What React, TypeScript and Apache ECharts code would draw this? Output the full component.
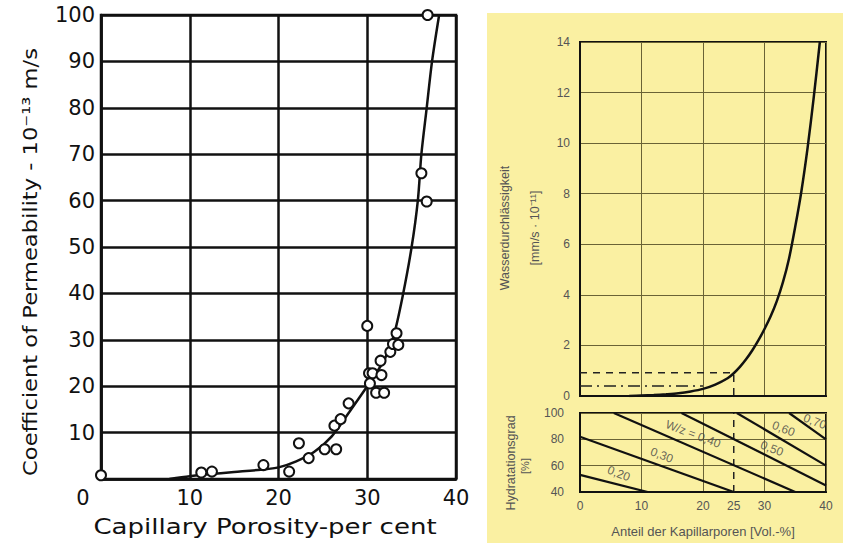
import React, { useEffect, useRef } from "react";
import * as echarts from "echarts";

// ---------- Left chart data ----------
const porosity = [0, 11.3, 12.5, 18.3, 21.2, 22.3, 23.4, 25.2, 26.5, 26.3, 27.0, 27.9, 30.0, 30.2, 30.6, 30.3, 31.0, 31.9, 31.6, 31.5, 32.6, 32.9, 33.3, 33.5, 36.1, 36.7, 36.8];
const permeability = [0.8, 1.4, 1.6, 3.0, 1.6, 7.7, 4.5, 6.4, 6.4, 11.5, 12.9, 16.3, 33.0, 22.8, 22.8, 20.6, 18.6, 18.6, 22.4, 25.5, 27.4, 29.1, 31.4, 28.9, 65.9, 59.8, 100];
const fitX = [7.7, 10, 12, 15, 18, 20, 22, 24, 26, 28, 30, 31, 32, 33, 34, 35, 35.7, 36.1, 36.7, 37.3, 38.1];
const fitY = [0, 0.6, 1.0, 1.5, 2.0, 2.5, 3.8, 5.8, 9.2, 14.5, 20, 22.8, 26, 31, 39.5, 50, 60, 70, 80, 90, 100];
const leftXTicks = [0, 10, 20, 30, 40];

// ---------- Right chart data ----------
const kapX = [8, 10, 12, 14, 16, 18, 20, 22, 24, 25, 26, 27, 28, 29, 30, 31, 32, 33, 34, 35, 36, 37, 38, 39];
const kapY = [0, 0.02, 0.04, 0.07, 0.11, 0.18, 0.28, 0.45, 0.7, 0.9, 1.15, 1.45, 1.8, 2.2, 2.65, 3.15, 3.75, 4.5, 5.45, 6.7, 8.1, 9.8, 11.8, 14];
const dashLevel = [[0, 0.92], [25, 0.92], [25, 0]];
const dashDotLevel = [[0, 0.4], [20, 0.4]];
const dashVertical = [[25, 40], [25, 100]];
const rightXLabels = [0, 10, 20, 25, 30, 40];

const wz020 = [[0, 53], [11, 40]];
const wz030 = [[0, 82], [25, 40]];
const wz040 = [[5.5, 100], [35, 40]];
const wz050 = [[16.5, 100], [40, 45]];
const wz060 = [[25.5, 100], [40, 60]];
const wz070 = [[34, 100], [40, 80]];
const wzLines = [wz020, wz030, wz040, wz050, wz060, wz070];
const wzLabels = [
  { name: "0,20", value: [6.3, 54] },
  { name: "0,30", value: [13.3, 68] },
  { name: "W/z = 0,40", value: [18.4, 84] },
  { name: "0,50", value: [31.2, 73] },
  { name: "0,60", value: [33.1, 88] },
  { name: "0,70", value: [38.2, 93.5] },
];

const BIG = "DejaVu Sans";
const SMALL = "Liberation Sans";
const OLIVE = "#6a6336";

export default function App() {
  const ref = useRef<HTMLDivElement>(null);
  useEffect(() => {
    if (!ref.current) return;
    const chart = echarts.init(ref.current, null, { renderer: "svg" });
    const rightLabel = { fontFamily: SMALL, fontSize: 12, color: "#555" };
    const option: any = {
      animation: false,
      backgroundColor: "#fff",
      graphic: [
        { type: "rect", z: -100, shape: { x: 487, y: 13, width: 356, height: 530 }, style: { fill: "#faf0a2" } },
        { type: "text", x: 265, y: 527, scaleX: 1.24, style: { text: "Capillary Porosity-per cent", fontFamily: BIG, fontSize: 21, fill: "#111", align: "center", verticalAlign: "middle" } },
        { type: "text", x: 30, y: 262, rotation: Math.PI / 2, scaleX: 1.13, style: { text: "Coefficient of Permeability - 10⁻¹³ m/s", fontFamily: BIG, fontSize: 20, fill: "#111", align: "center", verticalAlign: "middle" } },
        { type: "text", x: 505, y: 228, rotation: Math.PI / 2, style: { text: "Wasserdurchlässigkeit", fontFamily: SMALL, fontSize: 12.5, fill: "#555", align: "center", verticalAlign: "middle" } },
        { type: "text", x: 535, y: 228, rotation: Math.PI / 2, style: { text: "[mm/s · 10⁻¹¹]", fontFamily: SMALL, fontSize: 12.5, fill: "#555", align: "center", verticalAlign: "middle" } },
        { type: "text", x: 511, y: 463, rotation: Math.PI / 2, style: { text: "Hydratationsgrad", fontFamily: SMALL, fontSize: 12.5, fill: "#555", align: "center", verticalAlign: "middle" } },
        { type: "text", x: 525, y: 466, rotation: Math.PI / 2, style: { text: "[%]", fontFamily: SMALL, fontSize: 11, fill: "#555", align: "center", verticalAlign: "middle" } },
      ],
      grid: [
        { left: 101, top: 15, width: 355, height: 464, show: true, borderColor: "#111", borderWidth: 2.5, backgroundColor: "transparent" },
        { left: 580, top: 42, width: 246, height: 354, show: true, borderColor: "#111", borderWidth: 2, backgroundColor: "transparent" },
        { left: 580, top: 413, width: 246, height: 79, show: true, borderColor: "#111", borderWidth: 2, backgroundColor: "transparent" },
      ],
      xAxis: [
        {
          gridIndex: 0, type: "value", min: 0, max: 40, interval: 10,
          axisLine: { lineStyle: { color: "#111", width: 2.5 } },
          axisTick: { show: false },
          splitLine: { lineStyle: { color: "#111", width: 2.5 } },
          axisLabel: {
            customValues: leftXTicks,
            margin: 8, fontFamily: BIG, fontSize: 21, color: "#111",
            formatter: (v: number) => (v === 0 ? "{z|0}" : String(v)),
            rich: { z: { fontFamily: BIG, fontSize: 21, color: "#111", padding: [0, 36, 0, 0] } },
          },
        },
        {
          gridIndex: 1, type: "value", min: 0, max: 40, interval: 10,
          axisLine: { lineStyle: { color: "#111", width: 2 } },
          axisTick: { show: false }, axisLabel: { show: false },
          splitLine: { lineStyle: { color: OLIVE, width: 1 } },
        },
        {
          gridIndex: 2, type: "value", min: 0, max: 40, interval: 10,
          axisLine: { lineStyle: { color: "#111", width: 2 } },
          axisTick: { show: false },
          axisLabel: { ...rightLabel, customValues: rightXLabels, margin: 8 },
          splitLine: { lineStyle: { color: OLIVE, width: 1 } },
          name: "Anteil der Kapillarporen [Vol.-%]", nameLocation: "middle", nameGap: 33,
          nameTextStyle: { fontFamily: SMALL, fontSize: 13, color: "#555" },
        },
      ],
      yAxis: [
        {
          gridIndex: 0, type: "value", min: 0, max: 100, interval: 10,
          axisLine: { lineStyle: { color: "#111", width: 2.5 } },
          axisTick: { show: false },
          splitLine: { lineStyle: { color: "#111", width: 2.5 } },
          axisLabel: { margin: 6, fontFamily: BIG, fontSize: 21, color: "#111", formatter: (v: number) => (v === 0 ? "" : String(v)) },
        },
        {
          gridIndex: 1, type: "value", min: 0, max: 14, interval: 2,
          axisLine: { lineStyle: { color: "#111", width: 2 } },
          axisTick: { show: false },
          splitLine: { lineStyle: { color: OLIVE, width: 1 } },
          axisLabel: { ...rightLabel, margin: 10 },
        },
        {
          gridIndex: 2, type: "value", min: 40, max: 100, interval: 20,
          axisLine: { lineStyle: { color: "#111", width: 2 } },
          axisTick: { show: false },
          splitLine: { lineStyle: { color: OLIVE, width: 1 } },
          axisLabel: { ...rightLabel, margin: 16 },
        },
      ],
      series: [
        {
          type: "line", xAxisIndex: 0, yAxisIndex: 0, showSymbol: false, smooth: 0.3,
          data: fitX.map((x, i) => [x, fitY[i]]),
          lineStyle: { color: "#111", width: 2.5 }, z: 2,
        },
        {
          type: "scatter", xAxisIndex: 0, yAxisIndex: 0, symbol: "circle", symbolSize: 10,
          data: porosity.map((x, i) => [x, permeability[i]]),
          itemStyle: { color: "#fff", borderColor: "#111", borderWidth: 2, opacity: 1 }, z: 3,
        },
        {
          type: "line", xAxisIndex: 1, yAxisIndex: 1, showSymbol: false, smooth: 0.3,
          data: kapX.map((x, i) => [x, kapY[i]]),
          lineStyle: { color: "#111", width: 2.5 }, z: 3,
        },
        {
          type: "line", xAxisIndex: 1, yAxisIndex: 1, showSymbol: false, data: dashLevel,
          lineStyle: { color: "#222", width: 1.5, type: [7, 6] }, z: 2,
        },
        {
          type: "line", xAxisIndex: 1, yAxisIndex: 1, showSymbol: false, data: dashDotLevel,
          lineStyle: { color: "#222", width: 1.5, type: [12, 5, 2, 5] }, z: 2,
        },
        {
          type: "line", xAxisIndex: 2, yAxisIndex: 2, showSymbol: false, data: dashVertical,
          lineStyle: { color: "#222", width: 1.5, type: [7, 6] }, z: 2,
        },
        ...wzLines.map((d) => ({
          type: "line", xAxisIndex: 2, yAxisIndex: 2, showSymbol: false, data: d,
          lineStyle: { color: "#111", width: 2.2 }, z: 3,
        })),
        {
          type: "scatter", xAxisIndex: 2, yAxisIndex: 2, symbolSize: 0, data: wzLabels,
          label: { show: true, position: "inside", formatter: (p: any) => p.name, rotate: -21, fontFamily: SMALL, fontSize: 12, color: "#444" },
          z: 4,
        },
      ],
    };
    chart.setOption(option);
    return () => chart.dispose();
  }, []);
  return <div ref={ref} style={{ position: "absolute", left: 0, top: 0, width: 843, height: 550 }} />;
}
